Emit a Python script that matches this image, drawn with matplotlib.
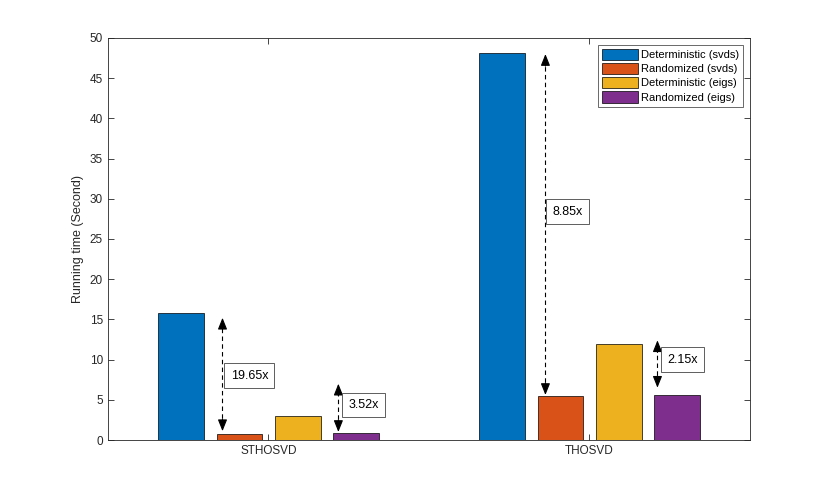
import matplotlib
matplotlib.use("Agg")
import matplotlib.pyplot as plt
import numpy as np

plt.rcParams["font.family"] = ["Liberation Sans", "DejaVu Sans"]

methods = ["STHOSVD", "THOSVD"]
series = ["Deterministic (svds)", "Randomized (svds)", "Deterministic (eigs)", "Randomized (eigs)"]
values = [
    [15.8, 48.1],   # Deterministic (svds)
    [0.80, 5.43],   # Randomized (svds)
    [3.0, 12.0],    # Deterministic (eigs)
    [0.85, 5.58],   # Randomized (eigs)
]
colors = ["#0072BD", "#D95319", "#EDB120", "#7E2F8E"]

# speed-up annotations: (group index, x offset, y top, y bottom, label, label x offset, label y)
speedups = [
    (0, -0.143, 15.2, 1.1, "19.65x", -0.059, 8.0),
    (0, 0.218, 7.0, 1.0, "3.52x", 0.296, 4.35),
    (1, -0.137, 48.0, 5.6, "8.85x", -0.069, 28.4),
    (1, 0.212, 12.4, 6.5, "2.15x", 0.290, 10.0),
]

fig = plt.figure(figsize=(8.3, 4.94), dpi=100)
ax = fig.add_axes([0.13, 0.1093, 0.7735, 0.8138])

x = np.arange(1, len(methods) + 1)
width = 0.143
offsets = [-0.271, -0.090, 0.093, 0.274]
for vals, off, col, name in zip(values, offsets, colors, series):
    ax.bar(x + off, vals, width, color=col, edgecolor="black", linewidth=0.5, label=name)

for g, dx, ytop, ybot, text, tx, ty in speedups:
    xa = x[g] + dx
    ax.plot([xa, xa], [ybot + 0.6, ytop - 0.6], color="black", linestyle=(0, (4, 3)), linewidth=0.8)
    for y_end, y_from in ((ytop, ytop - 1.5), (ybot, ybot + 1.5)):
        ax.annotate("", xy=(xa, y_end), xytext=(xa, y_from),
                    arrowprops=dict(arrowstyle="-|>,head_length=0.7,head_width=0.28",
                                    color="black", linewidth=0.8, shrinkA=0, shrinkB=0))
    ax.text(x[g] + tx, ty, text, ha="center", va="center", fontsize=9,
            bbox=dict(boxstyle="square,pad=0.5", facecolor="white", edgecolor="#444444", linewidth=0.6))

ax.set_xlim(0.5, 2.5)
ax.set_ylim(0, 50)
ax.set_xticks(x)
ax.set_xticklabels(methods)
ax.set_yticks(np.arange(0, 51, 5))
ax.set_ylabel("Running time (Second)", fontsize=9, color="#262626")
ax.tick_params(direction="in", top=True, right=True, labelsize=8.5, colors="#262626",
               length=4, width=0.6)
for sp in ax.spines.values():
    sp.set_color("#262626")
    sp.set_linewidth(0.6)

leg = ax.legend(loc="upper right", fontsize=8, frameon=True, fancybox=False,
                borderaxespad=0.6, handlelength=3.2, handleheight=1.2,
                handletextpad=0.3, labelspacing=0.25, borderpad=0.35)
leg.get_frame().set_edgecolor("#262626")
leg.get_frame().set_linewidth(0.6)

fig.savefig("out.png", dpi=100)
plt.close(fig)
